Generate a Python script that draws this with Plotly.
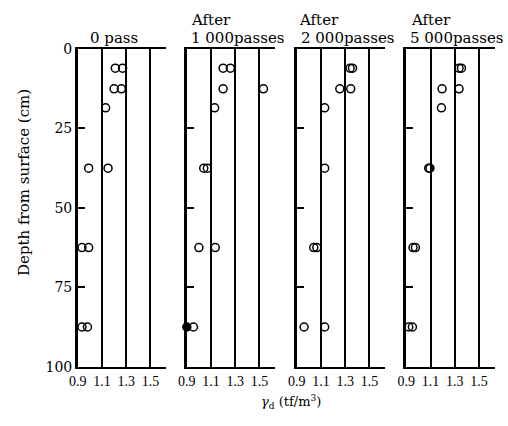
import plotly.graph_objects as go

# ---- data ----
panel_titles = ["0 pass", "1 000passes", "2 000passes", "5 000passes"]
x_ticks = [0.9, 1.1, 1.3, 1.5]
x_tick_labels = ["0.9", "1.1", "1.3", "1.5"]
y_ticks = [0, 25, 50, 75, 100]
y_tick_labels = ["0", "25", "50", "75", "100"]

pass0_depth = [6, 6, 12.5, 12.5, 18.5, 37.5, 37.5, 62.5, 62.5, 87.5, 87.5]
pass0_density = [1.21, 1.27, 1.20, 1.26, 1.13, 0.99, 1.15, 0.935, 0.99, 0.935, 0.98]

pass1000_depth = [6, 6, 12.5, 12.5, 18.5, 37.5, 37.5, 62.5, 62.5, 87.5, 87.5]
pass1000_density = [1.20, 1.26, 1.20, 1.533, 1.13, 1.04, 1.07, 1.00, 1.135, 0.90, 0.955]

pass2000_depth = [6, 6, 12.5, 12.5, 18.5, 37.5, 62.5, 62.5, 87.5, 87.5]
pass2000_density = [1.34, 1.36, 1.255, 1.345, 1.13, 1.13, 1.04, 1.065, 0.96, 1.13]

pass5000_depth = [6, 6, 12.5, 12.5, 18.5, 37.5, 37.5, 62.5, 62.5, 87.5, 87.5]
pass5000_density = [1.335, 1.355, 1.195, 1.335, 1.19, 1.085, 1.095, 0.955, 0.975, 0.92, 0.95]

# index of the one solid (filled) marker in the 1 000-pass panel
pass1000_filled_index = 9

panels = [
    (pass0_depth, pass0_density, None),
    (pass1000_depth, pass1000_density, pass1000_filled_index),
    (pass2000_depth, pass2000_density, None),
    (pass5000_depth, pass5000_density, None),
]

# ---- layout geometry (pixels) ----
W, H = 508, 426
panel_px = [(70, 160), (181, 271), (293, 383), (404.5, 494.5)]
y_top_px, y_bot_px = 42.7, 372.7
SERIF = "DejaVu Serif"

fig = go.Figure()
layout = dict(
    width=W, height=H, margin=dict(l=0, r=0, t=0, b=0),
    paper_bgcolor="white", plot_bgcolor="white", showlegend=False,
    font=dict(family=SERIF, color="black"),
)

for i, (depth, dens, filled) in enumerate(panels):
    n = "" if i == 0 else str(i + 1)
    symbols = ["circle" if (filled is not None and k == filled) else "circle-open"
               for k in range(len(dens))]
    fig.add_trace(go.Scatter(
        x=dens, y=depth, mode="markers", xaxis="x" + n, yaxis="y" + n,
        cliponaxis=False,
        marker=dict(symbol=symbols, size=8, color="black", line=dict(width=1.5, color="black")),
    ))
    x0, x1 = panel_px[i]
    layout["xaxis" + n] = dict(
        domain=[x0 / W, x1 / W], range=[0.9, 1.63], anchor="y" + n,
        tickvals=x_ticks, ticktext=x_tick_labels, ticks="",
        showgrid=True, gridcolor="black", gridwidth=1.6,
        showline=True, linecolor="black", linewidth=2, mirror=True,
        zeroline=False, tickfont=dict(family="Liberation Serif", size=14, color="black"),
    )
    yaxis = dict(
        domain=[1 - y_bot_px / H, 1 - y_top_px / H], range=[100, 0], anchor="x" + n,
        tickvals=y_ticks, ticks="inside", ticklen=7,
        tickwidth=1.5, tickcolor="black",
        showline=True, linecolor="black", linewidth=2.5,
        showgrid=False, zeroline=False, showticklabels=(i == 0),
        tickfont=dict(family=SERIF, size=14, color="black"),
    )
    if i == 0:
        yaxis["ticktext"] = y_tick_labels
    layout["yaxis" + n] = yaxis

def px(x, y):
    return x / W, 1 - y / H

annotations = []
title_pos = [(80, None), (183, 183), (295, 293), (406, 407)]
for i, title in enumerate(panel_titles):
    tx, ax = title_pos[i]
    x, y = px(tx, 31)
    annotations.append(dict(text=title, x=x, y=y, xref="paper", yref="paper",
                            xanchor="left", yanchor="middle", showarrow=False,
                            font=dict(family=SERIF, size=15, color="black")))
    if ax is not None:
        x, y = px(ax, 12)
        annotations.append(dict(text="After", x=x, y=y, xref="paper", yref="paper",
                                xanchor="left", yanchor="middle", showarrow=False,
                                font=dict(family=SERIF, size=15, color="black")))

x, y = px(15, 181)
annotations.append(dict(text="Depth from surface (cm)", x=x, y=y, xref="paper", yref="paper",
                        textangle=-90, xanchor="center", yanchor="middle", showarrow=False,
                        font=dict(family=SERIF, size=15, color="black")))
x, y = px(287, 409)
annotations.append(dict(text="<i>γ</i><sub>d</sub> (tf/m<sup>3</sup>)", x=x, y=y,
                        xref="paper", yref="paper", xanchor="center", yanchor="middle",
                        showarrow=False, font=dict(family=SERIF, size=13, color="black")))

layout["annotations"] = annotations
fig.update_layout(**layout)

fig.write_html("out.html", config={"displayModeBar": False},
               post_script="document.body.style.margin='0';")
